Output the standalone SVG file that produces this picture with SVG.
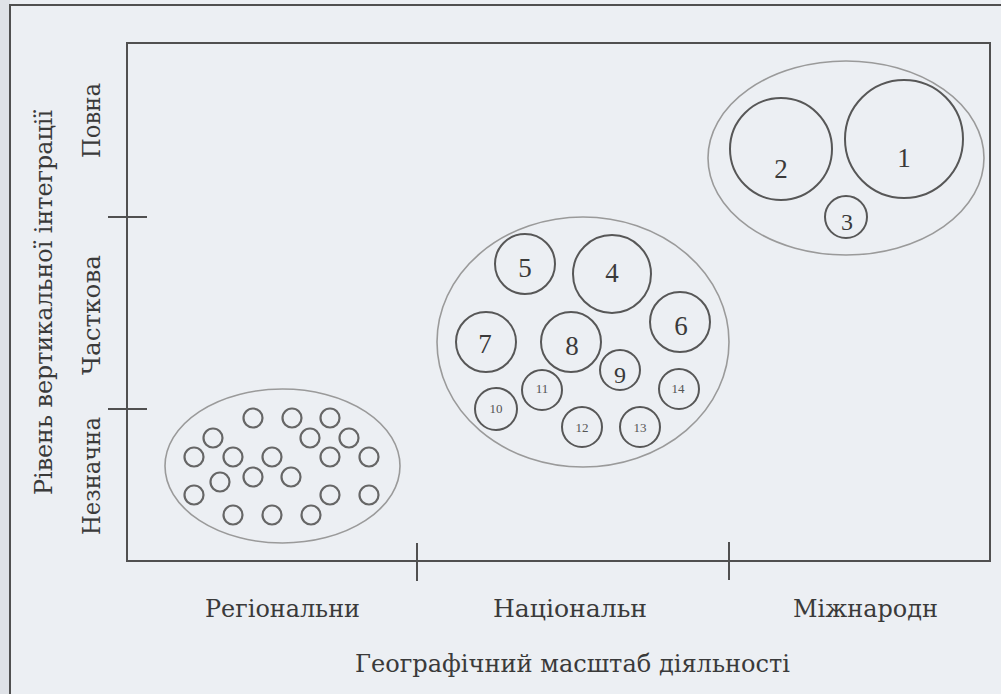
<svg xmlns="http://www.w3.org/2000/svg" width="1001" height="694" viewBox="0 0 1001 694">
<style>
.t{font-family:"Liberation Serif","DejaVu Serif",serif;fill:#3a3a3a}
.ax{font-family:"DejaVu Serif","Liberation Serif",serif;font-size:24px;text-anchor:middle}
.num{font-size:27px;text-anchor:middle}
.sm{font-size:13px;text-anchor:middle;fill:#555}
.grp{fill:none;stroke:#9a9a9a;stroke-width:1.6}
.c{fill:none;stroke:#575757;stroke-width:2}
.d{fill:none;stroke:#666;stroke-width:2.2}
.ln{stroke:#505050;stroke-width:2;fill:none}
</style>
<rect width="1001" height="694" fill="#eceff3"/>
<rect x="0" y="0" width="10" height="694" fill="#dfe2e7"/>
<path class="ln" d="M10 694V5H1001" stroke="#7a7a7a"/>
<g id="frame">
<rect class="ln" x="127" y="43" width="863" height="518"/>
<line class="ln" x1="108" y1="217" x2="147" y2="217"/>
<line class="ln" x1="108" y1="409" x2="147" y2="409"/>
<line class="ln" x1="417" y1="543" x2="417" y2="581"/>
<line class="ln" x1="729" y1="542" x2="729" y2="580"/>
</g>
<g id="labels" class="t">
<text class="ax" x="52" y="302.5" textLength="385" lengthAdjust="spacingAndGlyphs" transform="rotate(-90 52 302.5)">Рівень вертикальної інтеграції</text>
<text class="ax" x="100" y="120.5" textLength="75" lengthAdjust="spacingAndGlyphs" transform="rotate(-90 100 120.5)">Повна</text>
<text class="ax" x="100" y="315" textLength="120" lengthAdjust="spacingAndGlyphs" transform="rotate(-90 100 315)">Часткова</text>
<text class="ax" x="100" y="476" textLength="118" lengthAdjust="spacingAndGlyphs" transform="rotate(-90 100 476)">Незначна</text>
<text class="ax" x="282.5" y="617" textLength="155" lengthAdjust="spacingAndGlyphs">Регіональни</text>
<text class="ax" x="570" y="617" textLength="154" lengthAdjust="spacingAndGlyphs">Національн</text>
<text class="ax" x="865.5" y="617" textLength="145" lengthAdjust="spacingAndGlyphs">Міжнародн</text>
<text class="ax" x="572.5" y="672" textLength="435" lengthAdjust="spacingAndGlyphs">Географічний масштаб діяльності</text>
</g>
<g id="international">
<ellipse class="grp" cx="846" cy="158" rx="138" ry="97"/>
<g id="n1"><circle class="c" cx="904" cy="139" r="59"/><text class="t num" x="904" y="167" font-size="28">1</text></g>
<g id="n2"><circle class="c" cx="781" cy="149" r="51"/><text class="t num" x="781" y="178" font-size="28">2</text></g>
<g id="n3"><circle class="c" cx="846" cy="217" r="21"/><text class="t num" x="847" y="230" style="font-size:24px">3</text></g>
</g>
<g id="national">
<ellipse class="grp" cx="583" cy="342" rx="146" ry="125"/>
<g id="n4"><circle class="c" cx="612" cy="274" r="39"/><text class="t num" x="612" y="282">4</text></g>
<g id="n5"><circle class="c" cx="525" cy="264" r="30"/><text class="t num" x="525" y="277">5</text></g>
<g id="n6"><circle class="c" cx="680" cy="322" r="30"/><text class="t num" x="681" y="335">6</text></g>
<g id="n7"><circle class="c" cx="486" cy="342" r="30"/><text class="t num" x="485" y="353">7</text></g>
<g id="n8"><circle class="c" cx="571" cy="342" r="30"/><text class="t num" x="572" y="355">8</text></g>
<g id="n9"><circle class="c" cx="620" cy="370" r="20"/><text class="t num" x="620" y="383" style="font-size:24px">9</text></g>
<g id="n10"><circle class="c" cx="496" cy="409" r="21"/><text class="t sm" x="496" y="413">10</text></g>
<g id="n11"><circle class="c" cx="542" cy="390" r="20"/><text class="t sm" x="542" y="393">11</text></g>
<g id="n12"><circle class="c" cx="582" cy="427" r="20"/><text class="t sm" x="582" y="432">12</text></g>
<g id="n13"><circle class="c" cx="640" cy="427" r="20"/><text class="t sm" x="640" y="432">13</text></g>
<g id="n14"><circle class="c" cx="679" cy="389" r="20"/><text class="t sm" x="678" y="393">14</text></g>
</g>
<g id="regional">
<ellipse class="grp" cx="282.5" cy="466" rx="117.5" ry="77"/>
<g class="d">
<circle cx="253" cy="418" r="9.5"/><circle cx="292" cy="418" r="9.5"/><circle cx="330" cy="418" r="9.5"/>
<circle cx="213" cy="438" r="9.5"/><circle cx="310" cy="438" r="9.5"/><circle cx="349" cy="438" r="9.5"/>
<circle cx="194" cy="457" r="9.5"/><circle cx="233" cy="457" r="9.5"/><circle cx="272" cy="457" r="9.5"/><circle cx="330" cy="457" r="9.5"/><circle cx="369" cy="457" r="9.5"/>
<circle cx="220" cy="482" r="9.5"/><circle cx="253" cy="477" r="9.5"/><circle cx="291" cy="477" r="9.5"/>
<circle cx="194" cy="495" r="9.5"/><circle cx="330" cy="495" r="9.5"/><circle cx="369" cy="495" r="9.5"/>
<circle cx="233" cy="515" r="9.5"/><circle cx="272" cy="515" r="9.5"/><circle cx="311" cy="515" r="9.5"/>
</g>
</g>
</svg>
